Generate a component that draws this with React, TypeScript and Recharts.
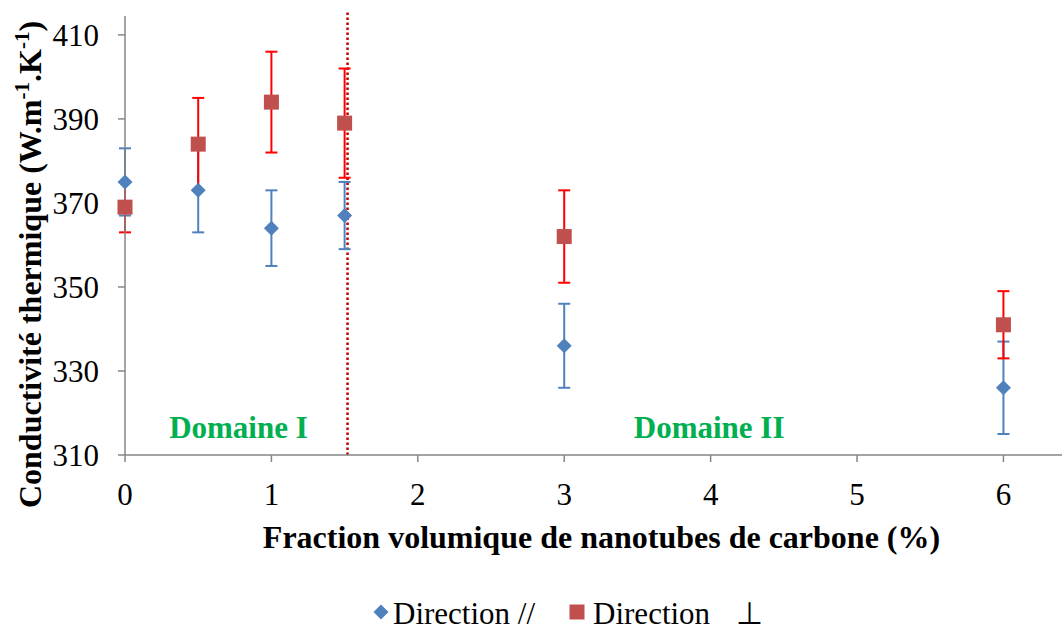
import React from 'react';
import { ScatterChart, Scatter, XAxis, YAxis, ErrorBar, ReferenceLine, ReferenceDot, Legend } from 'recharts';

// Volume fraction of carbon nanotubes (%)
const fractions = [0, 0.5, 1, 1.5, 3, 6];
// Direction // (parallel)
const parallelValues = [375, 373, 364, 367, 336, 326];
const parallelErrors = [8, 10, 9, 8, 10, 11];
// Direction ⊥ (perpendicular)
const perpValues = [369, 384, 394, 389, 362, 341];
const perpErrors = [6, 11, 12, 13, 11, 8];

const xTicks = [0, 1, 2, 3, 4, 5, 6];
const yTicks = [310, 330, 350, 370, 390, 410];
const seriesNames = ['Direction //', 'Direction'];
const domainBoundary = 1.52;
const domainTexts = ['Domaine I', 'Domaine II'];
const domainCenters = [0.775, 3.99];

const FONT = '"Liberation Serif", "Times New Roman", serif';
const AXIS = '#868686';
const BLUE = '#4f81bd';
const RED = '#c0504d';

const parallelData = fractions.map((x, i) => ({ x, y: parallelValues[i], err: parallelErrors[i] }));
const perpData = fractions.map((x, i) => ({ x, y: perpValues[i], err: perpErrors[i] }));

const Diamond = (props: any) => {
  const { cx, cy } = props;
  const r = 7.5;
  return <polygon points={`${cx},${cy - r} ${cx + r},${cy} ${cx},${cy + r} ${cx - r},${cy}`} fill={BLUE} />;
};

const Square = (props: any) => {
  const { cx, cy } = props;
  return <rect x={cx - 7.5} y={cy - 7.5} width={15} height={15} fill={RED} />;
};

const YTitle = (props: any) => {
  const vb = props.viewBox || { x: 0, y: 16, width: 125, height: 439 };
  const cx = vb.x + 41;
  const cy = vb.y + vb.height / 2 + 29;
  return (
    <text
      transform={`translate(${cx},${cy}) rotate(-90)`}
      textAnchor="middle"
      fontFamily={FONT}
      fontWeight="bold"
      fontSize={32}
      fill="#000"
    >
      Conductivité thermique (W.m
      <tspan dy={-12} fontSize={21}>-1</tspan>
      <tspan dy={12}>.K</tspan>
      <tspan dy={-12} fontSize={21}>-1</tspan>
      <tspan dy={12}>)</tspan>
    </text>
  );
};

const XTitle = (props: any) => {
  const vb = props.viewBox || { x: 125, y: 455, width: 937, height: 110 };
  return (
    <text
      x={vb.x + vb.width / 2 + 8}
      y={vb.y + 93}
      textAnchor="middle"
      fontFamily={FONT}
      fontWeight="bold"
      fontSize={32}
      fill="#000"
    >
      Fraction volumique de nanotubes de carbone (%)
    </text>
  );
};

const LegendContent = () => (
  <div
    style={{
      display: 'flex',
      alignItems: 'center',
      paddingLeft: 373,
      height: 38,
      lineHeight: '38px',
      fontFamily: FONT,
      fontSize: 31,
      color: '#000',
      whiteSpace: 'pre',
    }}
  >
    <svg width={16} height={16} style={{ marginTop: -4 }}>
      <polygon points="8,0.5 15.5,8 8,15.5 0.5,8" fill={BLUE} />
    </svg>
    <span style={{ marginLeft: 4 }}>{seriesNames[0]}</span>
    <svg width={16} height={16} style={{ marginLeft: 34, marginTop: -4 }}>
      <rect x={0.5} y={0.5} width={15} height={15} fill={RED} />
    </svg>
    <span style={{ marginLeft: 8 }}>{seriesNames[1]}</span>
    <span style={{ marginLeft: 26 }}>⊥</span>
  </div>
);

export default function App() {
  return (
    <div style={{ position: 'absolute', left: 0, top: 0, width: 1062, height: 629, background: '#fff' }}>
      <ScatterChart width={1062} height={629} margin={{ top: 16, right: 0, bottom: 26, left: 0 }}>
        <XAxis
          type="number"
          dataKey="x"
          domain={[0, 6.4]}
          ticks={xTicks}
          height={110}
          tickSize={7}
          tickMargin={21}
          axisLine={{ stroke: AXIS, strokeWidth: 1.5 }}
          tickLine={{ stroke: AXIS, strokeWidth: 1.5 }}
          tick={{ fill: '#000', fontSize: 31, fontFamily: FONT }}
          label={<XTitle />}
        />
        <YAxis
          type="number"
          dataKey="y"
          domain={[310, 414.5]}
          ticks={yTicks}
          width={125}
          tickSize={7}
          tickMargin={19}
          axisLine={{ stroke: AXIS, strokeWidth: 1.5 }}
          tickLine={{ stroke: AXIS, strokeWidth: 1.5 }}
          tick={{ fill: '#000', fontSize: 31, fontFamily: FONT }}
          label={<YTitle />}
        />
        <ReferenceLine
          segment={[
            { x: domainBoundary, y: 310 },
            { x: domainBoundary, y: 415.7 },
          ]}
          ifOverflow="visible"
          stroke="#c00000"
          strokeWidth={2.5}
          strokeDasharray="2.5 2.5"
        />
        {domainTexts.map((t, i) => (
          <ReferenceDot
            key={t}
            x={domainCenters[i]}
            y={316.6}
            r={0}
            fill="none"
            stroke="none"
            label={{
              value: t,
              position: 'center',
              fill: '#00b050',
              fontSize: 31,
              fontWeight: 'bold',
              fontFamily: FONT,
            }}
          />
        ))}
        <Scatter name={seriesNames[0]} data={parallelData} shape={<Diamond />} isAnimationActive={false}>
          <ErrorBar dataKey="err" direction="y" width={6} stroke={BLUE} strokeWidth={2} />
        </Scatter>
        <Scatter name={seriesNames[1]} data={perpData} shape={<Square />} isAnimationActive={false}>
          <ErrorBar dataKey="err" direction="y" width={6} stroke="#ff0000" strokeWidth={2} />
        </Scatter>
        <Legend
          layout="vertical"
          align="center"
          verticalAlign="bottom"
          content={<LegendContent />}
          wrapperStyle={{ position: 'absolute', left: 0, top: 595, bottom: 'auto', width: 1062 }}
        />
      </ScatterChart>
    </div>
  );
}
